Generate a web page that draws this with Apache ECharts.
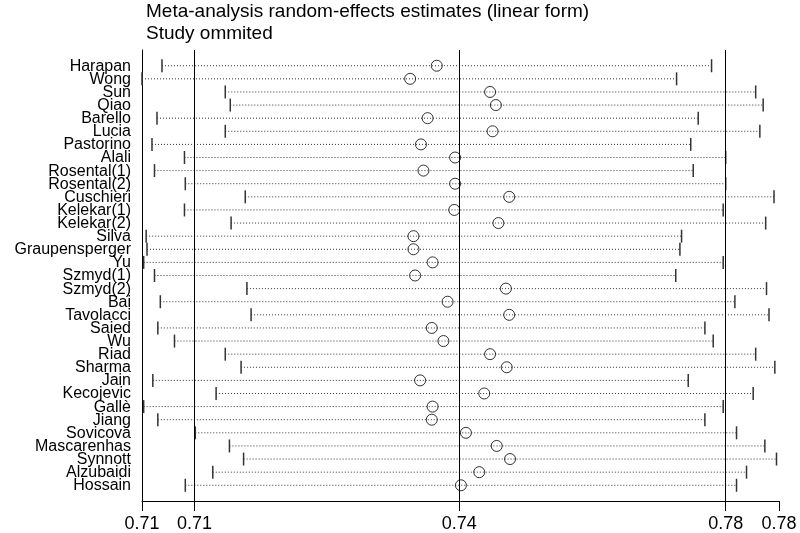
<!DOCTYPE html>
<html>
<head>
<meta charset="utf-8">
<script src="https://cdn.jsdelivr.net/npm/echarts@6/dist/echarts.min.js"></script>
<style>html,body{margin:0;padding:0;background:#fff}#chart{width:800px;height:533px}</style>
</head>
<body>
<div id="chart"></div>
<script>
const studies = ["Harapan","Wong","Sun","Qiao","Barello","Lucia","Pastorino","Alali","Rosental(1)","Rosental(2)","Cuschieri","Kelekar(1)","Kelekar(2)","Silva","Graupensperger","Yu","Szmyd(1)","Szmyd(2)","Bai","Tavolacci","Saied","Wu","Riad","Sharma","Jain","Kecojevic","Gallè","Jiang","Sovicova","Mascarenhas","Synnott","Alzubaidi","Hossain"];
const lowerCI = [0.7084,0.7060,0.7160,0.7166,0.7078,0.7160,0.7072,0.7111,0.7075,0.7112,0.7184,0.7111,0.7167,0.7065,0.7066,0.7062,0.7075,0.7186,0.7082,0.7191,0.7079,0.7099,0.7160,0.7179,0.7073,0.7149,0.7062,0.7079,0.7124,0.7165,0.7182,0.7145,0.7112];
const estimate = [0.7414,0.7382,0.7478,0.7485,0.7403,0.7481,0.7395,0.7436,0.7398,0.7436,0.7501,0.7435,0.7488,0.7386,0.7386,0.7409,0.7388,0.7497,0.7427,0.7501,0.7408,0.7422,0.7478,0.7498,0.7394,0.7471,0.7409,0.7408,0.7449,0.7486,0.7502,0.7465,0.7443];
const upperCI = [0.7744,0.7702,0.7797,0.7806,0.7728,0.7802,0.7719,0.7761,0.7722,0.7761,0.7819,0.7758,0.7809,0.7708,0.7706,0.7758,0.7701,0.7810,0.7772,0.7813,0.7736,0.7746,0.7797,0.7820,0.7716,0.7794,0.7758,0.7736,0.7774,0.7808,0.7822,0.7786,0.7774];
const pooled = [0.7123, 0.7441, 0.7761]; // lower, estimate, upper
const axisMin = 0.7060, axisMax = 0.7825;
const tickValues = [0.7060, 0.7123, 0.7441, 0.7761, 0.7825];
const tickLabels = ["0.71", "0.71", "0.74", "0.78", "0.78"];

const FONT = "Liberation Sans, Arial, sans-serif";
const chart = echarts.init(document.getElementById('chart'), null, {renderer: 'canvas'});

const option = {
  animation: false,
  backgroundColor: '#fff',
  title: [
    {text: 'Meta-analysis random-effects estimates (linear form)', left: 141, top: -3,
     textStyle: {fontFamily: FONT, fontSize: 19, fontWeight: 'normal', color: '#000'}},
    {text: 'Study ommited', left: 141, top: 19,
     textStyle: {fontFamily: FONT, fontSize: 19, fontWeight: 'normal', color: '#000'}}
  ],
  grid: {left: 142, right: 21, top: 50, bottom: 28},
  xAxis: {
    type: 'value', min: axisMin, max: axisMax,
    axisLine: {show: true, onZero: false, lineStyle: {color: '#000', width: 1}},
    axisTick: {show: true, customValues: tickValues, length: 10, lineStyle: {color: '#000', width: 1}},
    axisLabel: {show: true, customValues: tickValues, showMinLabel: true, showMaxLabel: true, margin: 14, color: '#000', fontFamily: FONT, fontSize: 18,
      formatter: v => { const k = tickValues.findIndex(t => Math.abs(t - v) < 1e-9); return k >= 0 ? tickLabels[k] : ''; }},
    splitLine: {show: false}
  },
  yAxis: {
    type: 'value', inverse: true, min: -1.2, max: 33.2,
    axisLine: {show: true, onZero: false, lineStyle: {color: '#000', width: 1}},
    axisTick: {show: false},
    axisLabel: {show: false},
    splitLine: {show: false}
  },
  series: [
    {
      // study names, placed at the left edge of each row through the axis scales
      type: 'custom',
      clip: false,
      data: studies.map((s, i) => [axisMin, i]),
      renderItem: function (params, api) {
        const p = api.coord([api.value(0), api.value(1)]);
        return {
          type: 'text', x: p[0] - 11, y: p[1] + 0.5,
          style: {text: studies[params.dataIndex], align: 'right', verticalAlign: 'middle',
                  fill: '#000', font: '16px ' + FONT}
        };
      },
      silent: true,
      z: 4
    },
    {
      type: 'custom',
      data: studies.map((s, i) => [lowerCI[i], upperCI[i], i]),
      renderItem: function (params, api) {
        const lo = api.coord([api.value(0), api.value(2)]);
        const hi = api.coord([api.value(1), api.value(2)]);
        const h = 6.5;
        return {
          type: 'group',
          children: [
            {type: 'line', shape: {x1: lo[0], y1: lo[1], x2: hi[0], y2: hi[1]},
             style: {stroke: '#333', lineWidth: 1, lineDash: [1, 2]}},
            {type: 'line', shape: {x1: lo[0], y1: lo[1] - h, x2: lo[0], y2: lo[1] + h},
             style: {stroke: '#333', lineWidth: 1.5}},
            {type: 'line', shape: {x1: hi[0], y1: hi[1] - h, x2: hi[0], y2: hi[1] + h},
             style: {stroke: '#333', lineWidth: 1.5}}
          ]
        };
      },
      z: 2
    },
    {
      type: 'scatter',
      data: studies.map((s, i) => [estimate[i], i]),
      symbol: 'circle', symbolSize: 11,
      itemStyle: {color: 'rgba(0,0,0,0)', borderColor: '#000', borderWidth: 1},
      z: 3,
      markLine: {
        silent: true, symbol: ['none', 'none'], label: {show: false}, precision: 6,
        lineStyle: {color: '#000', width: 1, type: 'solid'},
        data: pooled.map(v => ({xAxis: v}))
      }
    }
  ]
};
chart.setOption(option);
</script>
</body>
</html>
